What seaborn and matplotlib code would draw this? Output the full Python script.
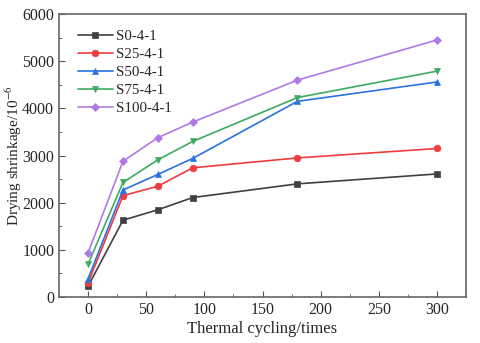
import seaborn as sns
import matplotlib
matplotlib.use("Agg")
import matplotlib.pyplot as plt
from matplotlib.ticker import MultipleLocator

# thermal cycles
cycles = [0, 30, 60, 90, 180, 300]

# drying shrinkage (10^-6)
s0 = [230, 1630, 1850, 2110, 2400, 2610]
s25 = [300, 2150, 2350, 2740, 2950, 3150]
s50 = [390, 2270, 2600, 2940, 4150, 4560]
s75 = [700, 2430, 2910, 3300, 4230, 4790]
s100 = [940, 2880, 3380, 3710, 4600, 5450]

names = ["S0-4-1", "S25-4-1", "S50-4-1", "S75-4-1", "S100-4-1"]
colors = ["#404040", "#f03c3c", "#2a72e0", "#3daa62", "#b07ae6"]
markers = ["s", "o", "^", "v", "D"]
msizes = [4.3, 4.8, 4.8, 4.8, 4.0]

sns.set_style("ticks")
plt.rcParams["font.family"] = ["Liberation Serif", "DejaVu Serif"]
plt.rcParams["mathtext.fontset"] = "stix"

fig = plt.figure(figsize=(4.8, 3.43), dpi=100)
ax = fig.add_axes([0.123, 0.134, 0.848, 0.825])

for name, vals, c, m, ms in zip(names, [s0, s25, s50, s75, s100],
                                colors, markers, msizes):
    sns.lineplot(x=cycles, y=vals, color=c, marker=m, markersize=ms,
                 markeredgecolor=c, markeredgewidth=0.5, linewidth=1.2,
                 label=name, ax=ax)

ax.set_xlim(-25, 325)
ax.set_ylim(0, 6000)
ax.xaxis.set_major_locator(MultipleLocator(50))
ax.xaxis.set_minor_locator(MultipleLocator(25))
ax.yaxis.set_major_locator(MultipleLocator(1000))
ax.yaxis.set_minor_locator(MultipleLocator(500))
ax.tick_params(which="both", direction="in", top=False, right=False,
               labelsize=11.5, color="#555555")
ax.tick_params(which="major", length=4)
ax.tick_params(which="minor", length=2.5)
for sp in ax.spines.values():
    sp.set_color("#666666")
    sp.set_linewidth(1.2)

ax.set_xlabel("Thermal cycling/times", fontsize=12, labelpad=2)
ax.set_ylabel("Drying shrinkage/10$^{-6}$", fontsize=11, labelpad=-1)

leg = ax.legend(loc="upper left", frameon=False, fontsize=10.8,
                bbox_to_anchor=(0.032, 0.965), handlelength=2.3,
                labelspacing=0.3, handletextpad=0.25, borderaxespad=0)

fig.savefig("out.png", dpi=100)
